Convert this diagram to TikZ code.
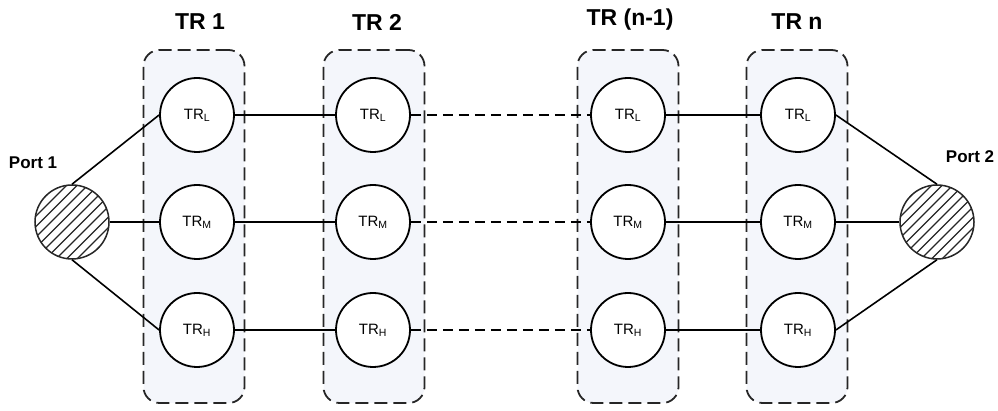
\documentclass[tikz,border=0pt]{standalone}
\usepackage{fontspec}
\setmainfont{Liberation Sans}
\begin{document}
\begin{tikzpicture}[x=1pt,y=1pt,
  grp/.style={draw=black!85, line width=1.8pt, dash pattern=on 13pt off 6pt, fill={rgb,255:red,244;green,246;blue,251}, rounded corners=16pt, minimum width=101pt, minimum height=353pt, inner sep=0pt},
  tr/.style={circle, draw=black, line width=1.8pt, fill=white, minimum size=74pt, inner sep=0pt, font=\fontsize{15}{17}\selectfont},
  port/.style={circle, draw=black!85, line width=1.5pt, minimum size=74pt, inner sep=0pt,
    path picture={\begin{scope}
      \foreach \i in {-8,...,8}
        \draw[line width=1.3pt] ([shift={(\i*10.5pt-45pt,-45pt)}]path picture bounding box.center) -- ++(90pt,90pt);
      \end{scope}}},
  ttl/.style={font=\fontsize{23}{27}\selectfont\bfseries},
  plab/.style={font=\fontsize{17}{19}\selectfont\bfseries},
  wire/.style={line width=1.6pt},
  dwire/.style={line width=1.6pt, dash pattern=on 10pt off 6pt}]
\useasboundingbox (0,0) rectangle (998,411);
% group boxes
\node[grp] (g1) at (194,184.5) {};
\node[grp] (g2) at (374,184.5) {};
\node[grp] (g3) at (628,184.5) {};
\node[grp] (g4) at (797,184.5) {};
% titles
\node[ttl] (t1) at (200,389) {TR 1};
\node[ttl] (t2) at (377,389) {TR 2};
\node[ttl] (t3) at (630,391) {TR (n-1)};
\node[ttl] (t4) at (797,389) {TR n};
% resonators
\foreach \n/\x in {1/197,2/373,3/628,4/798}{
  \node[tr] (L\n) at (\x,296) {TR\textsubscript{L}};
  \node[tr] (M\n) at (\x,189) {TR\textsubscript{M}};
  \node[tr] (H\n) at (\x,81) {TR\textsubscript{H}};
}
% ports
\node[port] (p1) at (72,189) {};
\node[port] (p2) at (937,189) {};
\node[plab] (pl1) at (33,248) {Port 1};
\node[plab] (pl2) at (970,254) {Port 2};
% connections
\draw[wire] (p1.north) -- (L1.west);
\draw[wire] (p1.east) -- (M1.west);
\draw[wire] (p1.south) -- (H1.west);
\draw[wire] (L4.east) -- (p2.north);
\draw[wire] (M4.east) -- (p2.west);
\draw[wire] (H4.east) -- (p2.south);
\foreach \r in {L,M,H}{
  \draw[wire] (\r1.east) -- (\r2.west);
  \draw[dwire] (\r2.east) -- (\r3.west);
  \draw[wire] (\r3.east) -- (\r4.west);
}
\end{tikzpicture}
\end{document}
